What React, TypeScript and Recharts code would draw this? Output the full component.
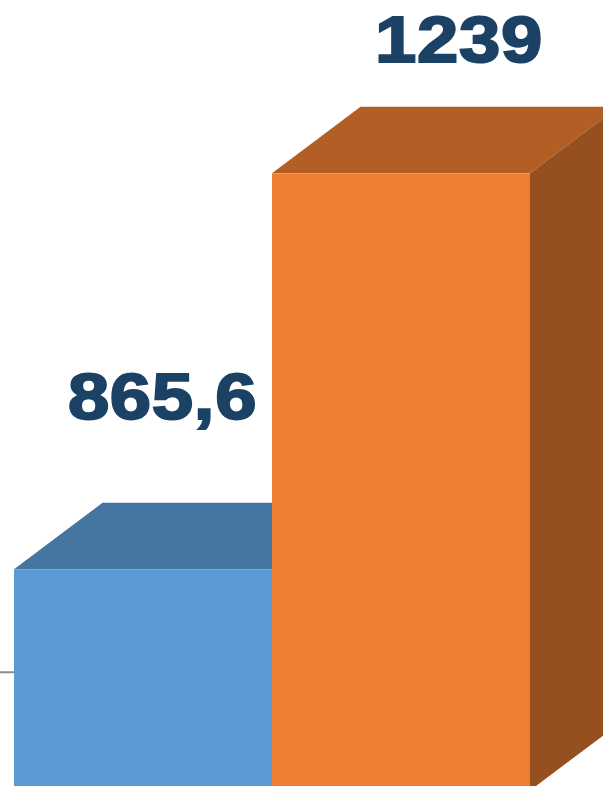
import { Bar, BarChart, LabelList, XAxis, YAxis } from 'recharts'

const categories = ['A', 'B']
const values = [865.6, 1239]
const yDomain = [657, 1402]
const yTicks = [768.5]

const frontColors = ['#5B9BD5', '#EE7E32']
const topColors = ['#4575A1', '#B25E25']
const sideColors = ['#3A6288', '#964F1E']

const rows = categories.map((name, i) => ({ name, value: values[i] }))

// extrusion of the 3D box
const DEPTH_X = 88.5
const DEPTH_Y = 66.5

function Box3D(props: any) {
  const { x, y, width, height, index } = props
  const right = x + width
  const bottom = y + height
  return (
    <g>
      <polygon
        points={`${x},${y} ${x + DEPTH_X},${y - DEPTH_Y} ${right + DEPTH_X},${y - DEPTH_Y} ${right},${y}`}
        fill={topColors[index]}
      />
      <polygon
        points={`${right},${y} ${right + DEPTH_X},${y - DEPTH_Y} ${right + DEPTH_X},${bottom - DEPTH_Y} ${right},${bottom}`}
        fill={sideColors[index]}
      />
      <rect x={x} y={y} width={width} height={height} fill={frontColors[index]} />
    </g>
  )
}

// the labels were dragged by hand in the original, so each has its own offset
const labelShift = [
  { dx: 19.5, dy: -150 },
  { dx: 58, dy: -111 },
]

function ValueLabel(props: any) {
  const { x, y, width, index, value } = props
  const shift = labelShift[index]
  return (
    <text
      transform={`translate(${x + width / 2 + shift.dx},${y + shift.dy}) scale(1.16,1)`}
      textAnchor="middle"
      fontFamily="Liberation Sans"
      fontWeight="bold"
      fontSize={64}
      letterSpacing={0.6}
      fill="#1B4265"
      stroke="#1B4265"
      strokeWidth={2}
    >
      {String(value).replace('.', ',')}
    </text>
  )
}

export default function App() {
  return (
    <div style={{ position: 'fixed', left: 0, top: 0, width: 603, height: 786, overflow: 'hidden', background: '#fff' }}>
      <BarChart
        width={603}
        height={790.5}
        data={rows}
        margin={{ top: 0.5, right: 73, bottom: 0, left: 0 }}
        barCategoryGap={0}
      >
        <XAxis dataKey="name" hide />
        <YAxis
          width={14}
          domain={yDomain}
          ticks={yTicks}
          interval={0}
          axisLine={false}
          tickSize={14}
          tickLine={{ stroke: '#8C8C8C', strokeWidth: 2 }}
          tickFormatter={() => ''}
        />
        <Bar dataKey="value" shape={Box3D} isAnimationActive={false}>
          <LabelList dataKey="value" content={ValueLabel} />
        </Bar>
      </BarChart>
    </div>
  )
}
